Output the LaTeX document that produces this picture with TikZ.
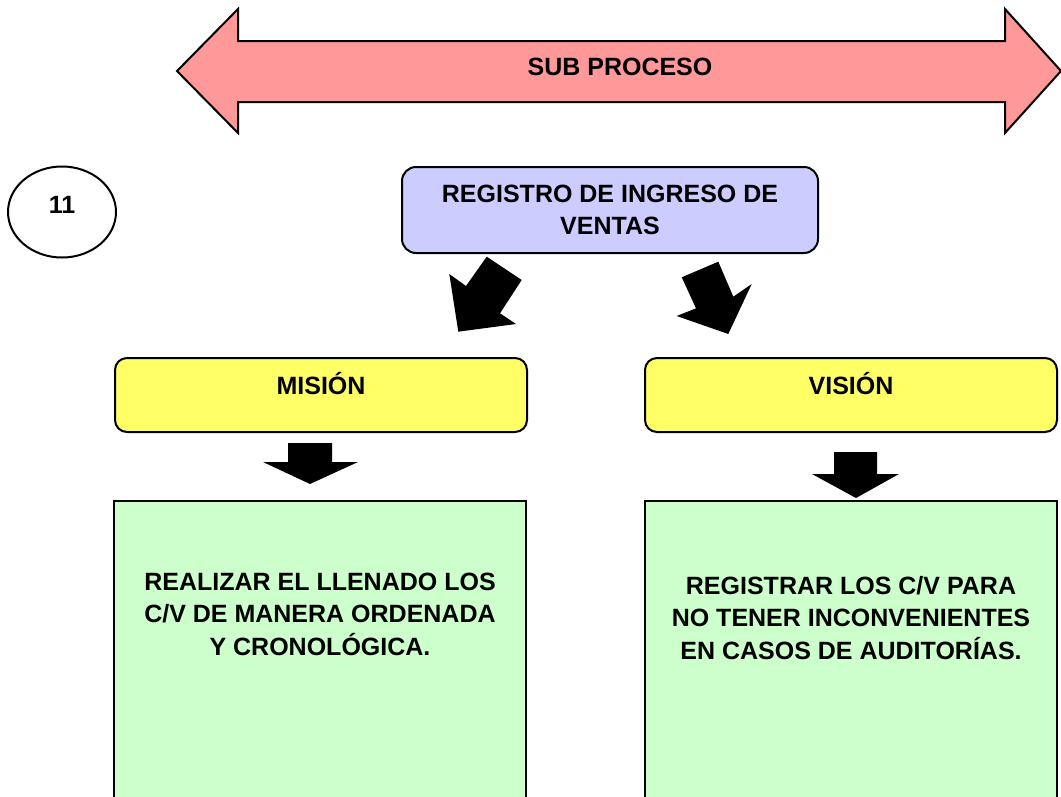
\documentclass[tikz,border=0pt]{standalone}
\usepackage{fontspec}
\setmainfont{Liberation Sans}
\usetikzlibrary{shapes.geometric,positioning}

\begin{document}
\begin{tikzpicture}[
        x=1pt, y=-1pt,
    line width=2pt, line join=miter,
    every node/.style={font=\bfseries\fontsize{25}{32.5}\selectfont, align=center, inner sep=0pt},
    bluebox/.style={draw, fill=lav, rounded corners=14pt, minimum width=416pt, minimum height=86pt},
    yellowbox/.style={draw, fill=yel, rounded corners=12pt, minimum width=412pt, minimum height=74pt, text depth=23pt},
    greenbox/.style={draw, fill=grn, anchor=north, minimum width=412pt, minimum height=340pt},
    blockarrow/.style={fill=black, draw=none}
]
\colorlet{pnk}{red!40}
\definecolor{lav}{HTML}{CCCCFF}
\definecolor{yel}{HTML}{FFFF66}
\definecolor{grn}{HTML}{CCFFCC}

    \clip (0,0) rectangle (1061,796);
    \fill[white] (0,0) rectangle (1061,796);

    \draw [fill=pnk] (177,71) -- (238,9) -- (238,41) -- (1005,41) -- (1005,9)
        -- (1061,71) -- (1005,133) -- (1005,102) -- (238,102) -- (238,133) -- cycle;
    \node (sub) at (620,67) {SUB PROCESO};

    \node [draw, ellipse, minimum width=108pt, minimum height=91pt, text depth=14pt] (num) at (62,212) {11};

    \node [bluebox] (reg) at (610,210) {REGISTRO DE INGRESO DE\\VENTAS};

    \node [yellowbox] (mis) at (321,395) {MISIÓN};
    \node [yellowbox] (vis) at (851,395) {VISIÓN};

    \node [greenbox] (misbox) at (320,500) {};
    \node [greenbox] (visbox) at (851,500) {};
    \node (mistxt) at (misbox.north |- 0,614)
        {REALIZAR EL LLENADO LOS\\C/V DE MANERA ORDENADA\\Y CRONOLÓGICA.};
    \node (vistxt) at (visbox.north |- 0,618)
        {REGISTRAR LOS C/V PARA\\NO TENER INCONVENIENTES\\EN CASOS DE AUDITORÍAS.};

    \fill [blockarrow] (486.7,256.7) -- (521.7,280) -- (500,313.3) -- (516,324)
        -- (458.3,331.7) -- (449.3,274) -- (466,286) -- cycle;
    \fill [blockarrow] (681.7,277.3) -- (718.3,261.7) -- (733.3,296.7) -- (751.7,284)
        -- (728.3,334) -- (676.7,316) -- (696,308.3) -- cycle;

    \fill [blockarrow] (288,443) -- (332,443) -- (332,462) -- (358,462)
        -- (310,484) -- (263,462) -- (288,462) -- cycle;
    \fill [blockarrow] (834,452) -- (877,452) -- (877,474) -- (899,474)
        -- (856,498) -- (812,474) -- (834,474) -- cycle;
\end{tikzpicture}
\end{document}
